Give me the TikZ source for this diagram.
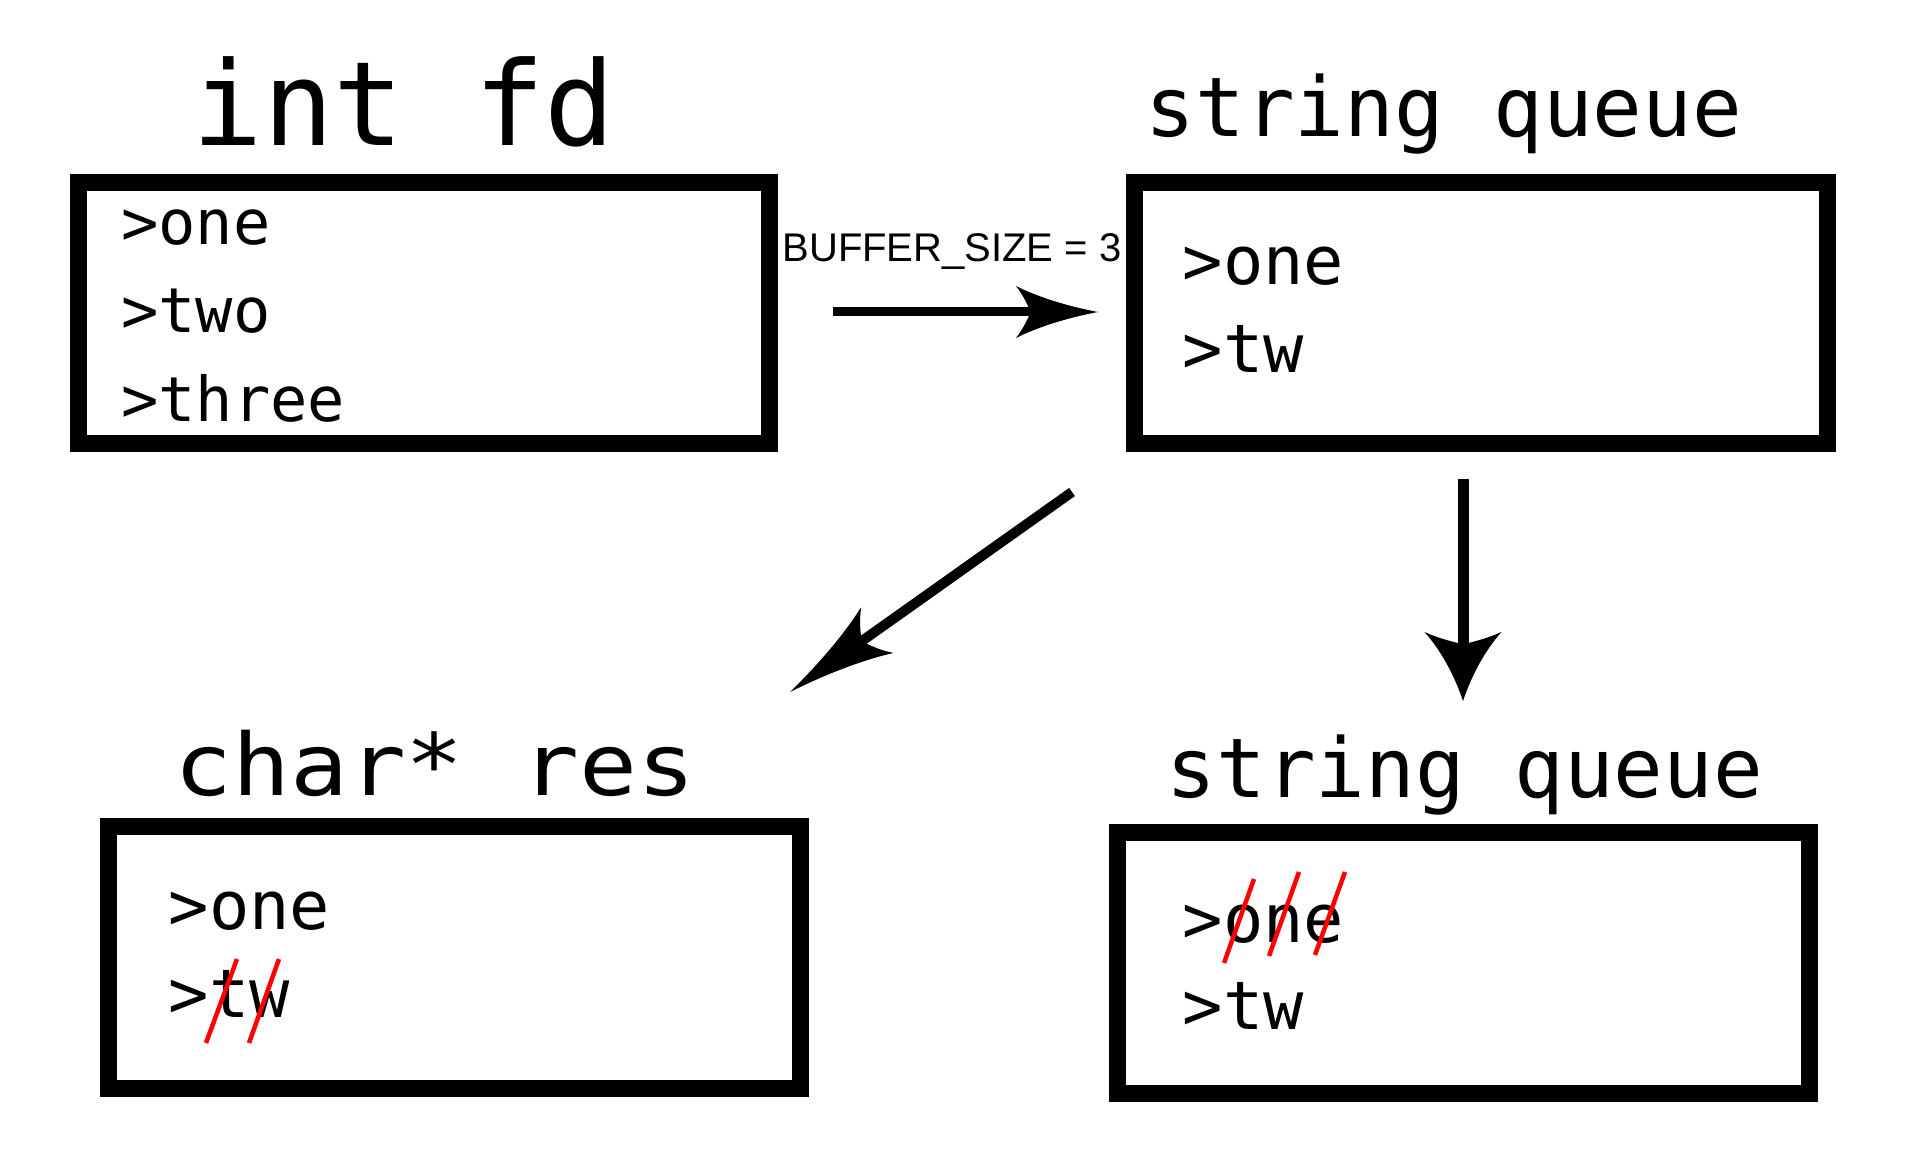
\documentclass[tikz,border=0pt]{standalone}
\usepackage{fontspec}
\usepackage{graphicx}
\usetikzlibrary{arrows.meta}
\newfontfamily\monofnt{DejaVu Sans Mono}
\newfontfamily\labfnt{Liberation Sans}

\pgfdeclarearrow{
  name = Curvy,
  defaults = {length = 80pt, width = 50pt},
  parameters = {\the\pgfarrowlength,\the\pgfarrowwidth},
  setup code = {
    \pgfarrowssettipend{0pt}
    \pgfarrowssetbackend{-\pgfarrowlength}
    \pgfarrowssetlineend{-.6\pgfarrowlength}
    \pgfarrowssavethe\pgfarrowlength
    \pgfarrowssavethe\pgfarrowwidth
  },
  drawing code = {
    \pgfpathmoveto{\pgfqpoint{0pt}{0pt}}
    \pgfpathcurveto{\pgfpoint{-.4\pgfarrowlength}{.12\pgfarrowwidth}}{\pgfpoint{-.75\pgfarrowlength}{.3\pgfarrowwidth}}{\pgfpoint{-\pgfarrowlength}{.5\pgfarrowwidth}}
    \pgfpathcurveto{\pgfpoint{-.9\pgfarrowlength}{.3\pgfarrowwidth}}{\pgfpoint{-.85\pgfarrowlength}{.1\pgfarrowwidth}}{\pgfpoint{-.82\pgfarrowlength}{0pt}}
    \pgfpathcurveto{\pgfpoint{-.85\pgfarrowlength}{-.1\pgfarrowwidth}}{\pgfpoint{-.9\pgfarrowlength}{-.3\pgfarrowwidth}}{\pgfpoint{-\pgfarrowlength}{-.5\pgfarrowwidth}}
    \pgfpathcurveto{\pgfpoint{-.75\pgfarrowlength}{-.3\pgfarrowwidth}}{\pgfpoint{-.4\pgfarrowlength}{-.12\pgfarrowwidth}}{\pgfqpoint{0pt}{0pt}}
    \pgfpathclose
    \pgfusepathqfill
  }
}

\tikzset{
  boxshape/.style={draw, line width=17pt, inner sep=0pt, fill=white},
  linetext/.style={anchor=base west, inner sep=0pt, font=\monofnt\fontsize{#1}{#1}\selectfont},
  titletext/.style={anchor=base, inner sep=0pt, font=\monofnt\fontsize{#1}{#1}\selectfont},
  strike/.style={draw=red, line width=4.5pt},
  conn/.style={line width=#1, line cap=butt}
}

\begin{document}
\begin{tikzpicture}[x=1pt, y=-1pt]
\fill[white] (0,0) rectangle (1920,1155);
\useasboundingbox (0,0) rectangle (1920,1155);

% boxes
\node[boxshape, minimum width=690.5pt, minimum height=261pt] (box1) at (423.75,313) {};
\node[boxshape, minimum width=693.5pt, minimum height=261pt] (box2) at (1480.75,313) {};
\node[boxshape, minimum width=692pt, minimum height=262pt] (box3) at (454.5,957.5) {};
\node[boxshape, minimum width=692pt, minimum height=261pt] (box4) at (1463,962.5) {};

% titles
\node[titletext=117] (title1) at (404,146) {int fd};
\node[titletext=82.5] (title2) at (1444,137) {string queue};
\node[titletext=86] (title3) at (435,795) {\scalebox{1.12}[1]{char* res}};
\node[titletext=82.5] (title4) at (1465,797) {string queue};

% box 1 texts
\node[linetext=62] (b1l1) at (121,245) {>one};
\node[linetext=62] (b1l2) at (121,333) {>two};
\node[linetext=62] (b1l3) at (121,422) {>three};

% box 2 texts
\node[linetext=67] (b2l1) at (1182.5,285) {>one};
\node[linetext=67] (b2l2) at (1182.5,373) {>tw};

% box 3 texts
\node[linetext=67] (b3l1) at (168.5,929) {>one};
\node[linetext=67] (b3l2) at (168.5,1017) {>tw};

% box 4 texts
\node[linetext=67] (b4l1) at (1182.5,942) {>one};
\node[linetext=67] (b4l2) at (1182.5,1029) {>tw};

% label
\node[anchor=base, inner sep=0pt, font=\labfnt\fontsize{40}{40}\selectfont] (buf) at (952,262) {BUFFER\_SIZE = 3};

% connectors
\coordinate (h1) at (833,312);
\coordinate (h2) at (1098,312);
\coordinate (d1) at (1072,492);
\coordinate (d2) at (790,692);
\coordinate (v1) at (1463,479);
\coordinate (v2) at (1463,701);
\draw[conn=9pt, -{Curvy[length=82pt,width=52pt]}] (h1) -- (h2);
\draw[conn=10pt, -{Curvy[length=107pt,width=56pt]}] (d1) -- (d2);
\draw[conn=11pt, -{Curvy[length=69pt,width=77pt]}] (v1) -- (v2);

% red strikes
\draw[strike] (206,1043) -- (237,959);
\draw[strike] (249,1043) -- (279,959);
\draw[strike] (1224,963) -- (1254,879);
\draw[strike] (1269,956) -- (1299,872);
\draw[strike] (1315,955) -- (1345,872);
\end{tikzpicture}
\end{document}
